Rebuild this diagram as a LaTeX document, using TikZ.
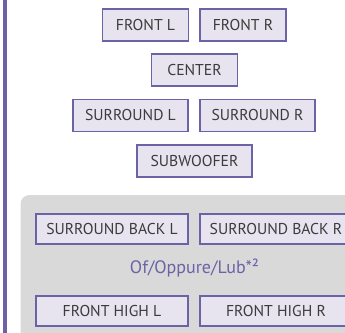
\documentclass[tikz,border=0pt]{standalone}
\usepackage{fontspec}
\setmainfont{PT Sans}
\usetikzlibrary{positioning}
\definecolor{frame}{HTML}{6B63A6}
\definecolor{boxfill}{HTML}{E7E4F0}
\definecolor{panel}{HTML}{D9D9D9}
\definecolor{txt}{HTML}{3C3C3C}
\begin{document}
\begin{tikzpicture} [
      x=1pt, y=1pt,
      speaker/.style={draw=frame, fill=boxfill, line width=1.9pt, rectangle, inner sep=0pt,
                      minimum height=32pt, minimum width=86pt, text=txt, font=\fontsize{15.7}{16}\selectfont},
      wide/.style={speaker, minimum width=115pt},
      widest/.style={speaker, minimum width=152pt, minimum height=30.5pt}
   ]
    \useasboundingbox (0, 0) rectangle (345, -332);
    \clip (0, 0) rectangle (345, -332);
    \fill[frame] (2.7, 10) rectangle (7.3, -340);
    \fill[panel, rounded corners=9pt] (20.5, -195) rectangle (370, -360);

    \node[speaker] (ndFrontL) at (145.5, -25) {FRONT L};
    \node[speaker, right of=ndFrontL, node distance=97.5pt] (ndFrontR) {FRONT R};
    \node[speaker, below of=ndFrontL, node distance=45pt, xshift=49pt] (ndCenter) {CENTER};
    \node[wide, below of=ndCenter, node distance=45.5pt, xshift=-64pt] (ndSurroundL) {SURROUND L};
    \node[wide, right of=ndSurroundL, node distance=127pt] (ndSurroundR) {SURROUND R};
    \node[wide, below of=ndCenter, node distance=91pt] (ndSub) {SUBWOOFER};

    \node[widest, below of=ndSub, node distance=68pt, xshift=-82.5pt] (ndBackL) {SURROUND BACK L};
    \node[widest, right of=ndBackL, node distance=164pt] (ndBackR) {SURROUND BACK R};
    \node[text=frame, font=\fontsize{18}{19}\selectfont, below of=ndSub, node distance=107pt] (ndNote) {Of/Oppure/Lub*²};
    \node[widest, below of=ndBackL, node distance=82pt] (ndHighL) {FRONT HIGH L};
    \node[widest, right of=ndHighL, node distance=164pt] (ndHighR) {FRONT HIGH R};
  \end{tikzpicture}
\end{document}
